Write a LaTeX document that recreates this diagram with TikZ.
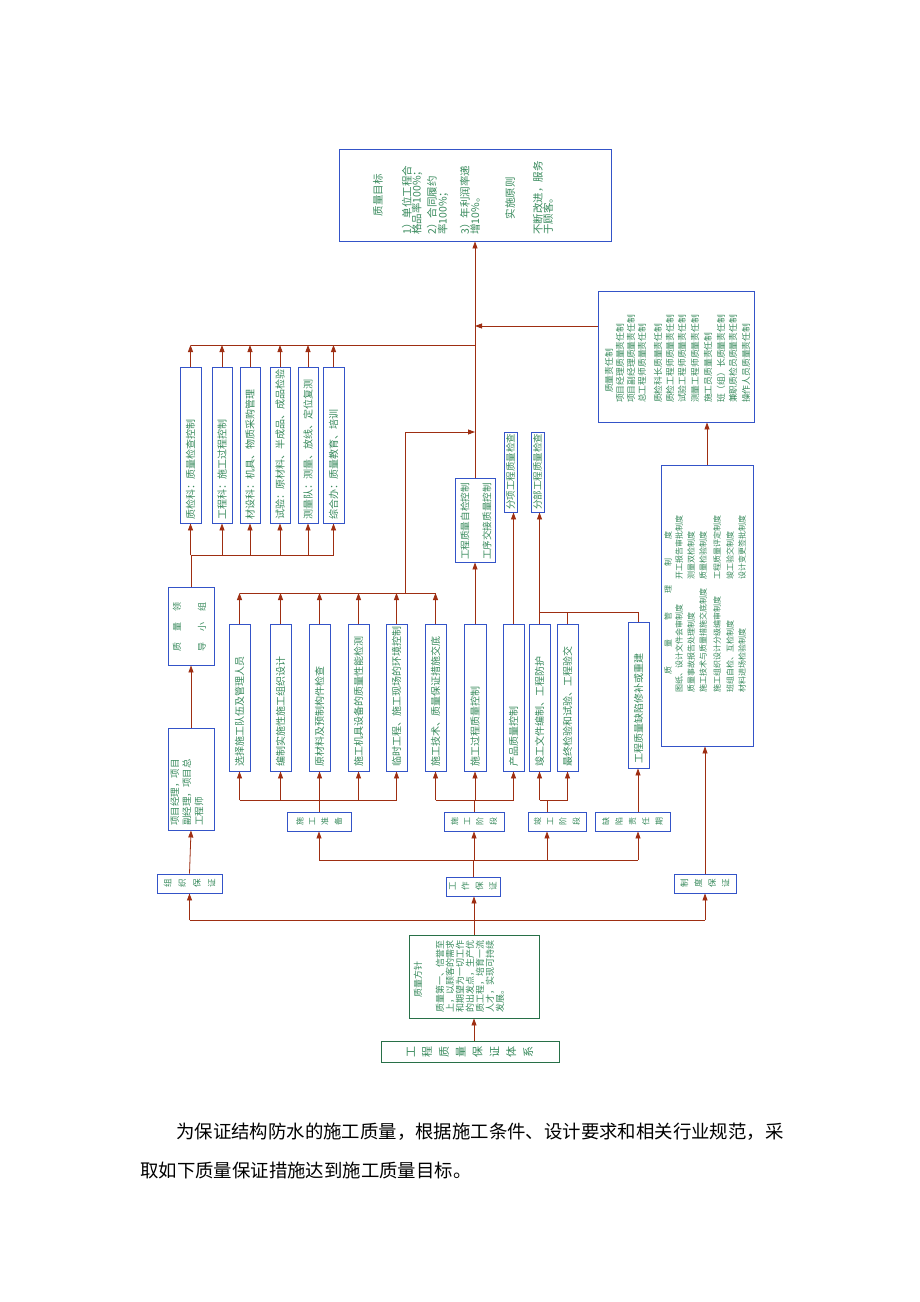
\documentclass[tikz,border=0pt]{standalone}
\usepackage{fontspec}
\usepackage{graphicx}
\newfontfamily\cjk{Noto Sans CJK SC}
\usetikzlibrary{arrows.meta,fit}
\definecolor{bblue}{RGB}{52,84,200}
\definecolor{tgreen}{RGB}{56,138,92}
\definecolor{lred}{RGB}{158,46,18}
\definecolor{ggreen}{RGB}{40,112,72}
\ExplSyntaxOn
\NewDocumentCommand\rchars{mm}{
  \bool_set_true:N \l_tmpa_bool
  \tl_map_inline:nn {#2}{
    \bool_if:NF \l_tmpa_bool {\hspace{#1}}
    \bool_set_false:N \l_tmpa_bool
    \rotatebox{90}{##1}
  }
}
\NewDocumentCommand\schars{mm}{
  \bool_set_true:N \l_tmpa_bool
  \tl_map_inline:nn {#2}{
    \bool_if:NF \l_tmpa_bool {\hspace{#1}}
    \bool_set_false:N \l_tmpa_bool
    ##1
  }
}
\ExplSyntaxOff
\begin{document}
\begin{tikzpicture}[x=1pt,y=-1pt,
  bx/.style={draw=bblue,line width=0.9pt,inner sep=0pt},
  gbx/.style={draw=ggreen,line width=0.9pt,inner sep=0pt},
  tx/.style={text=tgreen,inner sep=0pt,font=\cjk\fontsize{#1}{#1}\selectfont},
  tx/.default=10,
  vt/.style={tx=#1,rotate=90,anchor=west},
  vt/.default=10,
  vc/.style={tx=#1,rotate=90,anchor=center},
  vc/.default=10,
  ln/.style={draw=lred,line width=0.8pt},
  ar/.style={draw=lred,line width=0.8pt,-{Triangle[length=7pt,width=5pt]}},
]
\fill[white] (0,0) rectangle (920,1302);
\path[use as bounding box] (0,0) rectangle (920,1302);

% bus coordinates
\coordinate (topbus) at (0,345);
\coordinate (lbus) at (0,555);
\coordinate (hbus) at (0,432);
\coordinate (mbus) at (0,593);
\coordinate (kbus) at (0,612);
\coordinate (pbus) at (0,800);
\coordinate (sbus) at (0,860);
\coordinate (bbus) at (0,920);
\coordinate (x405) at (405,0);
\coordinate (xs1) at (319,0);
\coordinate (xs2) at (474,0);
\coordinate (xs3) at (547,0);
\coordinate (xs4) at (638,0);

% goal box
\node[bx,fit={(339,149)(611,241)}] (goal) {};
\node[vc=10.5] (g0) at (378,195) {质量目标};
\foreach \x/\t [count=\i] in {407/1）单位工程合,417/格品率100\%；,432/2）合同履约,443/率100\%；,465/3）年利润率递,475/增10\%。,538/不断改进，服务,548/于顾客。}
  \node[vt=10.5] (g\i) at (\x,235) {\t};
\node[vc=10.5] (g9) at (510,198) {实施原则};

% responsibility box
\node[bx,fit={(598,291)(754,422)}] (r) {};
\node[vt=8.8] (r0) at (609,393) {质量责任制};
\foreach \x/\t [count=\i] in {620/项目经理质量责任制,631/项目副经理质量责任制,642/总工程师质量责任制,658/质检科长质量责任制,670/质检工程师质量责任制,682/试验工程师质量责任制,695/测量工程师质量责任制,708/施工员质量责任制,721/班（组）长质量责任制,733/兼职质检员质量责任制,746/操作人员质量责任制}
  \node[vt=8.8] (r\i) at (\x,403) {\t};

% system box
\node[bx,fit={(661,465)(753,746)}] (z) {};
\node[vc=8] (z0) at (668,603) {\schars{19pt}{质量管理制度}};
\foreach \x/\a/\b [count=\i] in {679/图纸、设计文件会审制度/开工报告审批制度,691/质量事故报告处理制度/测量双检制度,703/施工技术与质量措施交底制度/质量检验制度,717/施工组织设计分级编审制度/工程质量评定制度,730/班组自检、互检制度/竣工验交制度,742/材料进场检验制度/设计变更签批制度}
{ \node[vt=8] (za\i) at (\x,693) {\a}; \node[vt=8] (zb\i) at (\x,580) {\b}; }

% top-left department boxes
\foreach \n/\a/\b/\t in {1/180/201/质检科：质量检查控制,2/212/232/工程科：施工过程控制,3/240/260/材设科：机具、物质采购管理,4/270/290/试验：原材料、半成品、成品检验,5/298/318/测量队：测量、放线、定位复测,6/323/344/综合办：质量教育、培训}
{ \node[bx,fit={(\a,367)(\b,523)}] (q\n) {};
  \node[vt] (qt\n) at ({(\a+\b)/2},520) {\t}; }

% bottom work boxes
\foreach \n/\a/\b/\t in {1/229/250/选择施工队伍及管理人员,2/270/291/编制实施性施工组织设计,3/309/330/原材料及预制构件检查,4/348/369/施工机具设备的质量性能检测,5/386/407/临时工程、施工现场的环境控制,6/425/446/施工技术、质量保证措施交底,7/464/486/施工过程质量控制,8/503/524/产品质量控制,9/529/550/竣工文件编制、工程防护,10/557/578/最终检验和试验、工程验交}
{ \node[bx,fit={(\a,624)(\b,771)}] (b\n) {};
  \node[vt] (bt\n) at ({(\a+\b)/2},767) {\t}; }
\node[bx,fit={(628,622)(649,768)}] (b11) {};
\node[vt] (bt11) at (638.5,764) {工程质量缺陷修补或重建};

% middle boxes
\node[bx,fit={(455,478)(495,562)}] (zj) {};
\node[vt=9.6] (zj1) at (465,560) {工程质量自检控制};
\node[vt=9.6] (zj2) at (487,560) {工序交接质量控制};
\node[bx,fit={(504,432)(517,512)}] (fx) {};
\node[vt=9.5] (fxt) at (510.5,510) {分项工程质量检查};
\node[bx,fit={(531,432)(544,512)}] (fb) {};
\node[vt=9.5] (fbt) at (537.5,510) {分部工程质量检查};

% leader group and project manager
\node[bx,fit={(168,587)(214,665)}] (ld) {};
\node[vc=9] (ld1) at (177,627) {\schars{11pt}{质量领}};
\node[vc=9] (ld2) at (202,627) {\schars{11pt}{导小组}};
\node[bx,fit={(168,728)(214,830)}] (pm) {};
\node[vt=9.5] (pm1) at (175,826) {项目经理，项目};
\node[vt=9.5] (pm2) at (187,826) {副经理，项目总};
\node[vt=9.5] (pm3) at (199,826) {工程师};

% stage boxes
\node[bx,fit={(287,812)(351,831)}] (s1) {};
\node[tx=8] (s1t) at (s1) {\rchars{6pt}{施工准备}};
\node[bx,fit={(444,812)(504,831)}] (s2) {};
\node[tx=8] (s2t) at (s2) {\rchars{6pt}{施工阶段}};
\node[bx,fit={(528,812)(586,831)}] (s3) {};
\node[tx=8] (s3t) at (s3) {\rchars{6pt}{竣工阶段}};
\node[bx,fit={(595,812)(670,831)}] (s4) {};
\node[tx=8] (s4t) at (s4) {\rchars{6pt}{缺陷责任期}};

% guarantee boxes
\node[bx,fit={(157,874)(222,893)}] (o1) {};
\node[tx=8.5] (o1t) at (o1) {\rchars{7pt}{组织保证}};
\node[bx,fit={(446,877)(500,896)}] (o2) {};
\node[tx=8.5] (o2t) at (o2) {\rchars{6pt}{工作保证}};
\node[bx,fit={(674,874)(736,893)}] (o3) {};
\node[tx=8.5] (o3t) at (o3) {\rchars{6pt}{制度保证}};

% policy and title
\node[gbx,fit={(409,935)(539,1018)}] (p) {};
\node[vt=9] (p0) at (418,998) {质量方针};
\foreach \x/\t [count=\i] in {440/质量第一、信誉至,450/上，以顾客的需求,460/和期望为一切工作,470/的出发点，生产优,480/质工程，培育一流,490/人才，实现可持续,500/发展。}
  \node[vt=9] (p\i) at (\x,1013) {\t};
\node[gbx,fit={(381,1041)(559,1062)}] (t) {};
\node[tx=11] (tt) at (t) {\rchars{7pt}{工程质量保证体系}};

% paragraph
\node[anchor=west,inner sep=0pt,font=\cjk\fontsize{18.4}{18.4}\selectfont] (para1) at (176,1132) {为保证结构防水的施工质量，根据施工条件、设计要求和相关行业规范，采};
\node[anchor=west,inner sep=0pt,font=\cjk\fontsize{18.4}{18.4}\selectfont] (para2) at (140,1170) {取如下质量保证措施达到施工质量目标。};

% ===== connectors =====
\draw[ar] (zj.north) -- (goal.south);
\draw[ln] (q1.north |- topbus) -- (zj.north |- topbus);
\foreach \n in {1,...,6} \draw[ar] (q\n.north) -- (q\n.north |- topbus);
\draw[ar] ([yshift=30.5pt]r.west) -- ([yshift=30.5pt]r.west -| zj.north);

\draw[ln] (q1.south |- lbus) -- (q6.south |- lbus);
\foreach \n in {1,...,6} \draw[ar] (q\n.south |- lbus) -- (q\n.south);
\draw[ln] (ld.north) -- (ld.north |- lbus);
\draw[ar] (pm.north) -- (ld.south);
\draw[ar] (o1.north) -- (pm.south);

\draw[ln] (o1.south |- bbus) -- (o3.south |- bbus);
\draw[ar] (o1.south |- bbus) -- (o1.south);
\draw[ar] (o3.south |- bbus) -- (o3.south);
\draw[ar] (p.north) -- (p.north |- o2.south);
\draw[ar] (p.south |- t.north) -- (p.south);

\draw[ln] (o2.north) -- (o2.north |- sbus);
\draw[ln] (xs1 |- sbus) -- (xs4 |- sbus);
\foreach \n in {1,...,4} \draw[ar] (xs\n |- sbus) -- (xs\n |- s\n.south);

\draw[ln] (xs1 |- s1.north) -- (xs1 |- pbus);
\draw[ln] (b1.south |- pbus) -- (b5.south |- pbus);
\foreach \n in {1,...,5} \draw[ar] (b\n.south |- pbus) -- (b\n.south);
\draw[ln] (xs2 |- s2.north) -- (xs2 |- pbus);
\draw[ln] (b6.south |- pbus) -- (b8.south |- pbus);
\foreach \n in {6,7,8} \draw[ar] (b\n.south |- pbus) -- (b\n.south);
\draw[ln] (xs3 |- s3.north) -- (xs3 |- pbus);
\draw[ln] (b9.south |- pbus) -- (b10.south |- pbus);
\foreach \n in {9,10} \draw[ar] (b\n.south |- pbus) -- (b\n.south);
\draw[ar] (xs4 |- s4.north) -- (xs4 |- b11.south);

\draw[ln] (b1.north |- mbus) -- (b6.north |- mbus);
\foreach \n in {1,...,6} \draw[ar] (b\n.north) -- (b\n.north |- mbus);
\draw[ln] (x405 |- mbus) -- (x405 |- hbus);
\draw[ar] (x405 |- hbus) -- (zj.north |- hbus);
\draw[ar] (b7.north) -- (zj.south);
\draw[ar] (b8.north) -- (b8.north |- fx.south);
\draw[ar] (b9.north) -- (b9.north |- fb.south);
\draw[ln] (b9.north |- kbus) -- (b11.north |- kbus);
\draw[ln] (b10.north) -- (b10.north |- kbus);
\draw[ln] (b11.north) -- (b11.north |- kbus);

\draw[ar] (o3.north) -- (o3.north |- z.south);
\draw[ar] (z.north) -- (z.north |- r.south);
\end{tikzpicture}
\end{document}
